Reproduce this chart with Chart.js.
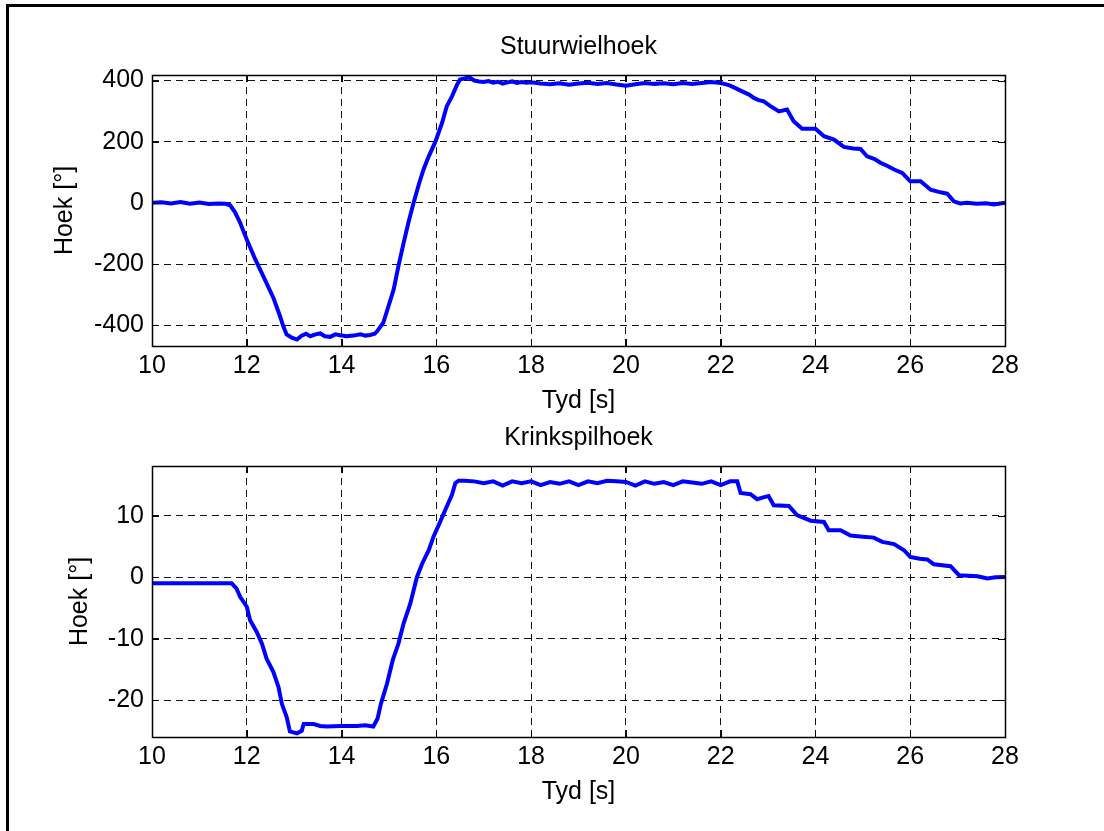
<!doctype html>
<html lang="nl">
<head>
<meta charset="UTF-8" />
<title>Stuurwielhoek en Krinkspilhoek</title>
<script src="https://cdn.jsdelivr.net/npm/chart.js@4.4.4/dist/chart.umd.min.js"></script>
<style>
  body { margin: 0; background: #fff; overflow: hidden; }
  .page { position: relative; width: 1104px; height: 831px; }
  .frame {
    position: absolute; left: 6px; top: 4px; right: -10px; bottom: -10px;
    border-top: 3px solid #000; border-left: 3px solid #000;
  }
  canvas { position: absolute; left: 0; }
  #steerChart { top: 0; }
  #kingChart { top: 391px; }
</style>
</head>
<body>
<div class="page">
  <div class="frame"></div>
  <canvas id="steerChart" width="1104" height="430"></canvas>
  <canvas id="kingChart" width="1104" height="430"></canvas>
</div>
<script>
// tick labels
const xTicks = [10, 12, 14, 16, 18, 20, 22, 24, 26, 28];
const steerTicks = [-400, -200, 0, 200, 400];
const kingTicks = [-20, -10, 0, 10];

// Stuurwielhoek (steering wheel angle, degrees)
const steerTime = [
  10.0, 10.2, 10.4, 10.6, 10.8, 11.0, 11.2, 11.4, 11.55, 11.65, 11.75, 11.86,
  12.0, 12.18, 12.35, 12.56, 12.7, 12.77, 12.84, 12.95, 13.06, 13.15, 13.25, 13.34,
  13.45, 13.55, 13.65, 13.76, 13.87, 13.97, 14.1, 14.25, 14.4, 14.5, 14.6, 14.7,
  14.75, 14.88, 14.99, 15.1, 15.2, 15.31, 15.41, 15.52, 15.63, 15.73, 15.84, 15.98,
  16.12, 16.22, 16.33, 16.44, 16.5, 16.6, 16.7, 16.8, 16.9, 17.0, 17.1, 17.2,
  17.3, 17.4, 17.5, 17.6, 17.7, 17.8, 17.9, 18.0, 18.2, 18.4, 18.6, 18.8,
  19.0, 19.2, 19.4, 19.6, 19.8, 20.0, 20.2, 20.4, 20.6, 20.8, 21.0, 21.2,
  21.4, 21.6, 21.8, 22.0, 22.1, 22.2, 22.3, 22.42, 22.6, 22.7, 22.8, 22.91,
  23.05, 23.23, 23.4, 23.54, 23.72, 24.0, 24.18, 24.39, 24.6, 24.8, 24.95, 25.09,
  25.25, 25.37, 25.5, 25.66, 25.83, 26.0, 26.22, 26.43, 26.6, 26.78, 26.92, 27.05,
  27.2, 27.4, 27.6, 27.77, 27.9, 28.0
];
const steerAngle = [
  0, 2, -2, 3, -3, 1, -4, -2, -3, -8, -30, -65,
  -120, -185, -240, -310, -370, -403, -430, -441, -447, -435, -428, -436,
  -430, -427, -436, -438, -430, -433, -436, -434, -430, -434, -432, -428,
  -420, -392, -338, -283, -207, -131, -65, 0, 60, 109, 152, 200,
  261, 316, 348, 387, 403, 407, 410, 400, 397, 395, 398, 393,
  396, 390, 394, 397, 392, 395, 393, 394, 390, 388, 391, 386,
  390, 393, 389, 392, 387, 383, 388, 392, 389, 391, 388, 392,
  389, 392, 395, 392, 388, 383, 376, 367, 354, 343, 336, 332,
  316, 299, 305, 267, 242, 242, 218, 207, 183, 178, 176, 152,
  143, 131, 122, 109, 98, 71, 71, 43, 36, 30, 5, -2,
  0, -3, -1, -5, -2, 0
];

// Krinkspilhoek (kingpin angle, degrees)
const kingTime = [
  10.0, 10.5, 11.0, 11.4, 11.68, 11.78, 11.86, 12.0, 12.07, 12.21, 12.32, 12.42,
  12.56, 12.67, 12.74, 12.84, 12.91, 13.06, 13.16, 13.2, 13.41, 13.55, 13.69, 13.97,
  14.32, 14.5, 14.67, 14.76, 14.83, 14.96, 15.08, 15.2, 15.31, 15.45, 15.59, 15.7,
  15.84, 15.94, 16.08, 16.22, 16.33, 16.4, 16.47, 16.6, 16.8, 17.0, 17.2, 17.4,
  17.6, 17.8, 18.0, 18.2, 18.4, 18.6, 18.8, 19.0, 19.2, 19.4, 19.6, 19.8,
  20.0, 20.2, 20.4, 20.6, 20.8, 21.0, 21.2, 21.4, 21.6, 21.8, 22.0, 22.2,
  22.35, 22.42, 22.63, 22.77, 22.9, 23.01, 23.12, 23.44, 23.61, 23.9, 24.18, 24.28,
  24.53, 24.74, 25.0, 25.23, 25.41, 25.66, 25.87, 26.0, 26.2, 26.36, 26.5, 26.85,
  27.03, 27.42, 27.63, 27.8, 28.0
];
const kingAngle = [
  -1.0, -1.0, -1.0, -1.0, -1.0, -1.8, -3.2, -4.8, -7.0, -8.9, -10.8, -13.3,
  -15.4, -17.9, -20.6, -22.7, -25.1, -25.4, -25.0, -23.9, -23.9, -24.2, -24.3, -24.2,
  -24.2, -24.1, -24.3, -23.0, -20.6, -17.3, -13.5, -10.8, -7.5, -4.3, 0.0, 2.2,
  4.4, 6.6, 9.0, 11.5, 13.4, 15.3, 15.7, 15.7, 15.6, 15.3, 15.6, 14.9,
  15.6, 15.3, 15.6, 15.0, 15.5, 15.2, 15.6, 15.0, 15.6, 15.3, 15.7, 15.6,
  15.5, 14.9, 15.6, 15.2, 15.5, 15.0, 15.6, 15.4, 15.2, 15.6, 15.0, 15.6,
  15.6, 13.7, 13.5, 12.7, 13.0, 13.2, 11.7, 11.6, 10.1, 9.2, 9.0, 7.65,
  7.65, 6.8, 6.6, 6.45, 5.75, 5.4, 4.4, 3.3, 3.0, 2.9, 2.1, 1.8,
  0.33, 0.15, -0.2, 0.0, 0.05
];

Chart.defaults.font.family = '"Liberation Sans", Arial, Helvetica, sans-serif';
Chart.defaults.color = '#000';

const font = { size: 25 };

// axes box with inward tick marks, like the original plot
const boxPlugin = {
  id: 'box',
  afterDraw(chart) {
    const { ctx, chartArea: a, scales } = chart;
    const len = 7;
    ctx.save();
    ctx.strokeStyle = '#000';
    ctx.lineWidth = 1;
    ctx.beginPath();
    scales.x.ticks.forEach(t => {
      const px = Math.round(scales.x.getPixelForValue(t.value)) + 0.5;
      ctx.moveTo(px, a.bottom); ctx.lineTo(px, a.bottom - len);
      ctx.moveTo(px, a.top); ctx.lineTo(px, a.top + len);
    });
    scales.y.ticks.forEach(t => {
      const py = Math.round(scales.y.getPixelForValue(t.value)) + 0.5;
      ctx.moveTo(a.left, py); ctx.lineTo(a.left + len, py);
      ctx.moveTo(a.right, py); ctx.lineTo(a.right - len, py);
    });
    ctx.stroke();
    ctx.lineWidth = 1.5;
    ctx.strokeRect(Math.round(a.left) + 0.5, Math.round(a.top) + 0.5,
      Math.round(a.width), Math.round(a.height));
    ctx.restore();
  }
};

function makeChart(id, times, values, yTicks, yMin, yMax, title, yTitlePad) {
  const points = times.map((t, i) => ({ x: t, y: values[i] }));
  return new Chart(document.getElementById(id), {
    type: 'line',
    data: {
      datasets: [{
        data: points,
        borderColor: '#0000ff',
        borderWidth: 4,
        pointRadius: 0,
        tension: 0,
        xAxisID: 'x',
        yAxisID: 'y'
      }]
    },
    options: {
      responsive: false,
      animation: false,
      devicePixelRatio: 1,
      layout: { padding: { left: 0, right: 99, top: 0, bottom: 0 } },
      plugins: { legend: { display: false }, tooltip: { enabled: false } },
      scales: {
        x: {
          type: 'linear', position: 'bottom', min: 10, max: 28,
          afterBuildTicks: s => { s.ticks = xTicks.map(v => ({ value: v })); },
          afterFit: s => { s.height = 84; },
          ticks: { font, padding: 5, color: '#000', maxRotation: 0 },
          grid: { color: '#111', lineWidth: 1, drawTicks: false },
          border: { display: false, dash: [7, 5] },
          title: { display: true, text: 'Tyd [s]', font, color: '#000', padding: { top: 0, bottom: 14 } }
        },
        xTop: {
          type: 'linear', position: 'top', min: 10, max: 28,
          afterFit: s => { s.height = 75; },
          ticks: { display: false },
          grid: { display: false, drawTicks: false },
          border: { display: false },
          title: { display: true, text: title, font, color: '#000', padding: { top: 32, bottom: 0 } }
        },
        y: {
          type: 'linear', position: 'left', min: yMin, max: yMax,
          afterBuildTicks: s => { s.ticks = yTicks.map(v => ({ value: v })); },
          afterFit: s => { s.width = 152; },
          ticks: { font, padding: 8, color: '#000' },
          grid: { color: '#111', lineWidth: 1, drawTicks: false },
          border: { display: false, dash: [7, 5] },
          title: { display: true, text: 'Hoek [°]', font, color: '#000', padding: { top: yTitlePad, bottom: 0 } }
        }
      }
    },
    plugins: [boxPlugin]
  });
}

makeChart('steerChart', steerTime, steerAngle, steerTicks, -468, 418, 'Stuurwielhoek', 50);
makeChart('kingChart', kingTime, kingAngle, kingTicks, -26, 18.1, 'Krinkspilhoek', 65);
</script>
</body>
</html>
